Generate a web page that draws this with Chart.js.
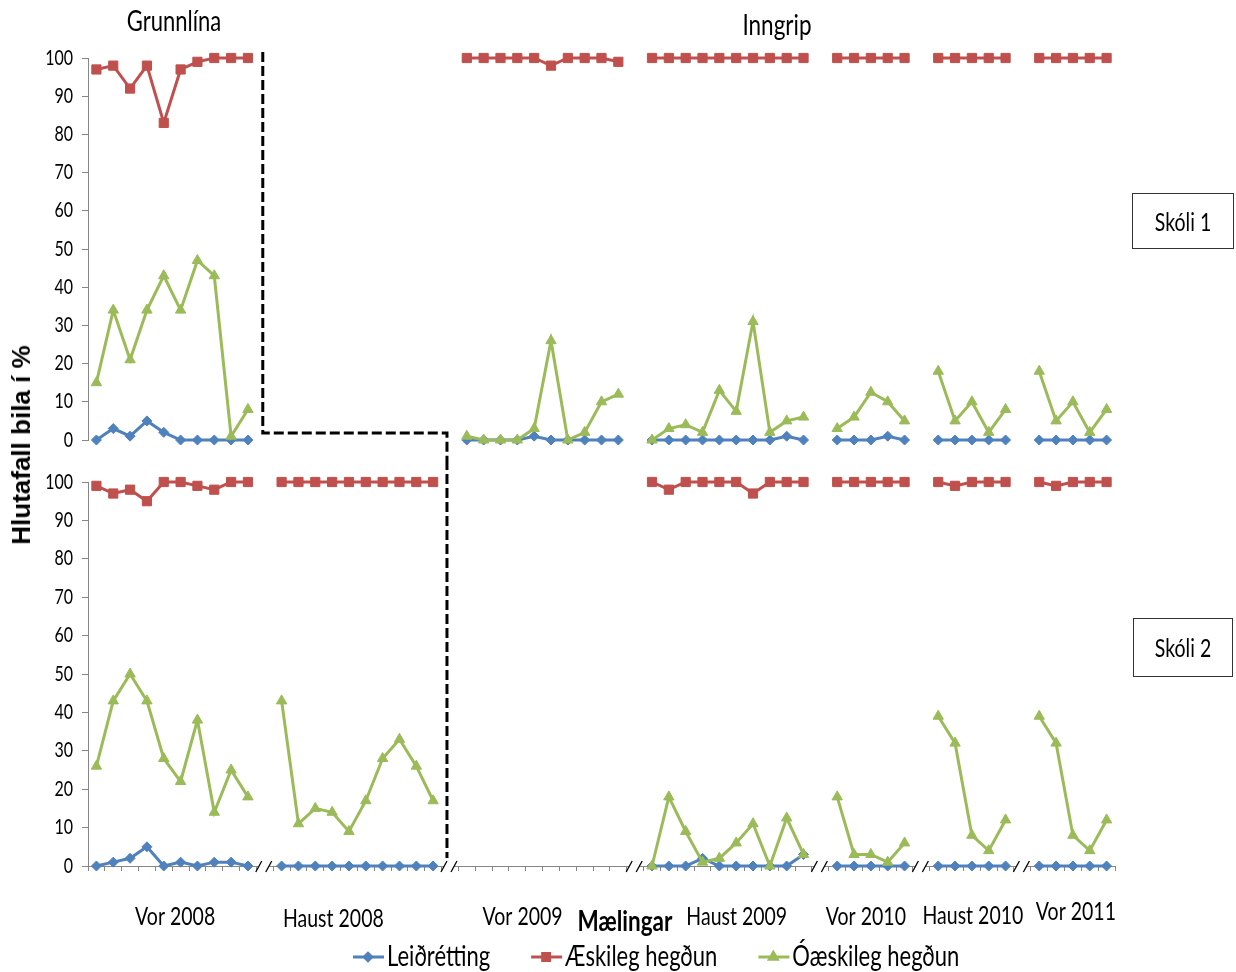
<!DOCTYPE html>
<html>
<head>
<meta charset="utf-8">
<script src="https://cdn.jsdelivr.net/npm/chart.js@4.4.1/dist/chart.umd.min.js"></script>
<style>
body { margin: 0; background: #fff; width: 1236px; height: 972px; position: relative; overflow: hidden;
       font-family: Lato, "Open Sans", sans-serif; }
canvas { position: absolute; left: 0; }
#topChart { top: 0; }
#bottomChart { top: 460px; }
.lbl { position: absolute; white-space: nowrap; color: #000; line-height: 1; transform: translate(-50%, -50%) scale(1, 1.28); }
.box { position: absolute; border: 1.5px solid #333; box-sizing: border-box; display: flex;
       align-items: center; justify-content: center; }
.box span { font-size: 19.5px; display: inline-block; transform: scale(1, 1.28); }
</style>
</head>
<body>
<canvas id="topChart" width="1236" height="460"></canvas>
<canvas id="bottomChart" width="1236" height="512"></canvas>

<div class="lbl" style="left:174px;top:21px;font-size:22px">Grunnlína</div>
<div class="lbl" style="left:777px;top:25px;font-size:22.5px">Inngrip</div>
<div class="box" style="left:1132px;top:193px;width:102px;height:56px"><span>Skóli 1</span></div>
<div class="box" style="left:1133px;top:618px;width:100px;height:59px"><span>Skóli 2</span></div>
<div class="lbl" style="left:625px;top:921px;font-size:22.5px;font-weight:bold">Mælingar</div>
<div class="lbl" style="left:21px;top:445px;font-size:26px;font-weight:bold;font-family:'Liberation Sans',Arial,sans-serif;transform:translate(-50%,-50%) rotate(-90deg)">Hlutafall bila í %</div>

<script>
// measurement periods and how many sessions each one has
var groups = ['Vor 2008', 'Haust 2008', 'Vor 2009', 'Haust 2009', 'Vor 2010', 'Haust 2010', 'Vor 2011'];
var groupSizes = [10, 10, 10, 10, 5, 5, 5];

// Skóli 1 (null = no measurement in that period)
var s1Leidretting = [
    [0, 3, 1, 5, 2, 0, 0, 0, 0, 0],
    null,
    [0, 0, 0, 0, 1, 0, 0, 0, 0, 0],
    [0, 0, 0, 0, 0, 0, 0, 0, 1, 0],
    [0, 0, 0, 1, 0],
    [0, 0, 0, 0, 0],
    [0, 0, 0, 0, 0]
];
var s1Aeskileg = [
    [97, 98, 92, 98, 83, 97, 99, 100, 100, 100],
    null,
    [100, 100, 100, 100, 100, 98, 100, 100, 100, 99],
    [100, 100, 100, 100, 100, 100, 100, 100, 100, 100],
    [100, 100, 100, 100, 100],
    [100, 100, 100, 100, 100],
    [100, 100, 100, 100, 100]
];
var s1Oaeskileg = [
    [15, 34, 21, 34, 43, 34, 47, 43, 1, 8],
    null,
    [1, 0, 0, 0, 3, 26, 0, 2, 10, 12],
    [0, 3, 4, 2, 13, 7.5, 31, 2, 5, 6],
    [3, 6, 12.5, 10, 5],
    [18, 5, 10, 2, 8],
    [18, 5, 10, 2, 8]
];

// Skóli 2
var s2Leidretting = [
    [0, 1, 2, 5, 0, 1, 0, 1, 1, 0],
    [0, 0, 0, 0, 0, 0, 0, 0, 0, 0],
    null,
    [0, 0, 0, 2, 0, 0, 0, 0, 0, 3],
    [0, 0, 0, 0, 0],
    [0, 0, 0, 0, 0],
    [0, 0, 0, 0, 0]
];
var s2Aeskileg = [
    [99, 97, 98, 95, 100, 100, 99, 98, 100, 100],
    [100, 100, 100, 100, 100, 100, 100, 100, 100, 100],
    null,
    [100, 98, 100, 100, 100, 100, 97, 100, 100, 100],
    [100, 100, 100, 100, 100],
    [100, 99, 100, 100, 100],
    [100, 99, 100, 100, 100]
];
var s2Oaeskileg = [
    [26, 43, 50, 43, 28, 22, 38, 14, 25, 18],
    [43, 11, 15, 14, 9, 17, 28, 33, 26, 17],
    null,
    [0, 18, 9, 1, 2, 6, 11, 0, 12.5, 3],
    [18, 3, 3, 1, 6],
    [39, 32, 8, 4, 12],
    [39, 32, 8, 4, 12]
];

var yTicks = [0, 10, 20, 30, 40, 50, 60, 70, 80, 90, 100];
var seriesNames = ['Leiðrétting', 'Æskileg hegðun', 'Óæskileg hegðun'];

var BLUE = '#4F81BD', RED = '#C0504D', GREEN = '#9BBB59', AXIS = '#868686';
var FONT = 'Lato, "Open Sans", sans-serif';
var STRETCH = 1.28;   // the original text is tall and narrow
Chart.defaults.font.family = FONT;
Chart.defaults.color = '#000';

// one slot per session plus an empty slot between periods
var slotLabels = [];
var gapSlots = [];
var groupStart = [];
groups.forEach(function (g, i) {
    groupStart.push(slotLabels.length);
    for (var k = 0; k < groupSizes[i]; k++) slotLabels.push(g);
    if (i < groups.length - 1) { gapSlots.push(slotLabels.length); slotLabels.push(''); }
});

buildSeries = function (perGroup) {
    var out = [];
    perGroup.forEach(function (vals, g) {
        for (var k = 0; k < groupSizes[g]; k++) out.push(vals ? vals[k] : null);
        if (g < groups.length - 1) out.push(null);
    });
    return out;
}

makeDataset = function (label, data, color, style, radius, order) {
    return {
        label: label, data: buildSeries(data),
        borderColor: color, backgroundColor: color,
        pointStyle: style, pointRadius: radius, pointHoverRadius: radius,
        borderWidth: 3, pointBorderWidth: 1, spanGaps: false, clip: false, order: order
    };
}

makeDatasets = function (leid, aesk, oaesk) {
    return [
        makeDataset(seriesNames[0], leid, BLUE, 'rectRot', 5, 2),
        makeDataset(seriesNames[1], aesk, RED, 'rect', 6.5, 1),
        makeDataset(seriesNames[2], oaesk, GREEN, 'triangle', 6, 0)
    ];
}

stretchText = function (ctx, text, x, y, font, align) {
    ctx.save();
    ctx.font = font;
    ctx.textAlign = align;
    ctx.textBaseline = 'middle';
    ctx.fillStyle = '#000';
    ctx.translate(x, y);
    ctx.scale(1, STRETCH);
    ctx.fillText(text, 0, 0);
    ctx.restore();
}

yScale = function () {
    return {
        min: 0, max: 100,
        afterFit: function (s) { s.width = 88; },
        afterBuildTicks: function (s) { s.ticks = yTicks.map(function (v) { return { value: v }; }); },
        ticks: { display: false },
        grid: { drawOnChartArea: false, tickLength: 6, color: AXIS },
        border: { color: AXIS, width: 1 }
    };
}

var yLabels = {
    id: 'yLabels',
    afterDraw: function (chart) {
        var y = chart.scales.y;
        yTicks.forEach(function (v) {
            stretchText(chart.ctx, String(v), y.right - 15, y.getPixelForValue(v), '16px ' + FONT, 'right');
        });
    }
};

dashed = function (ctx, pts) {
    ctx.save();
    ctx.strokeStyle = '#000';
    ctx.lineWidth = 3;
    ctx.setLineDash([10, 4]);
    ctx.beginPath();
    ctx.moveTo(pts[0][0], pts[0][1]);
    for (var i = 1; i < pts.length; i++) ctx.lineTo(pts[i][0], pts[i][1]);
    ctx.stroke();
    ctx.restore();
}

var topPhaseLine = {
    id: 'topPhaseLine',
    afterDraw: function (chart) {
        var x = chart.scales.x, y = chart.scales.y;
        var x1 = x.getPixelForValue(gapSlots[0]) - 2;
        var x2 = x.getPixelForValue(gapSlots[1]) - 3;
        var yh = y.getPixelForValue(0) - 7;
        dashed(chart.ctx, [[x1, chart.chartArea.top - 6], [x1, yh], [x2, yh], [x2, chart.height]]);
    }
};

var bottomDecor = {
    id: 'bottomDecor',
    afterDraw: function (chart) {
        var ctx = chart.ctx, x = chart.scales.x, area = chart.chartArea;
        var axisY = area.bottom;
        // phase change line continues from the top panel
        var x2 = x.getPixelForValue(gapSlots[1]) - 3;
        dashed(ctx, [[x2, 0], [x2, axisY - 8]]);

        // axis breaks
        ctx.save();
        gapSlots.forEach(function (s) {
            var cx = x.getPixelForValue(s) - 1;
            ctx.fillStyle = '#fff';
            ctx.fillRect(cx - 5, axisY - 2, 10, 4);
            ctx.strokeStyle = '#000';
            ctx.lineWidth = 1.3;
            [-5, 5].forEach(function (d) {
                ctx.beginPath();
                ctx.moveTo(cx + d - 3, axisY + 6);
                ctx.lineTo(cx + d + 3, axisY - 5);
                ctx.stroke();
            });
        });
        ctx.restore();

        // period labels under the axis
        var nudge = [3, -24, -20, 9, -5, 1, 3];
        var lift = [0, -2, 0, 0, 0, 1, 5];
        groups.forEach(function (g, i) {
            var a = x.getPixelForValue(groupStart[i]);
            var b = x.getPixelForValue(groupStart[i] + groupSizes[i] - 1);
            stretchText(ctx, g, (a + b) / 2 + nudge[i], 457 - lift[i], '19.5px ' + FONT, 'center');
        });

        // legend
        var lx = 353, ly = 497, lfont = '22px ' + FONT;
        chart.data.datasets.forEach(function (ds) {
            ctx.save();
            ctx.strokeStyle = ds.borderColor;
            ctx.lineWidth = 3;
            ctx.beginPath();
            ctx.moveTo(lx, ly);
            ctx.lineTo(lx + 31, ly);
            ctx.stroke();
            ctx.fillStyle = ds.borderColor;
            Chart.helpers.drawPoint(ctx, { pointStyle: ds.pointStyle, radius: ds.pointRadius * 0.75, borderWidth: 1 }, lx + 15, ly);
            ctx.font = lfont;
            var w = ctx.measureText(ds.label).width;
            ctx.restore();
            stretchText(ctx, ds.label, lx + 34, ly, lfont, 'left');
            lx += 34 + w + 41;
        });
    }
};

var topChart = new Chart(document.getElementById('topChart'), {
    type: 'line',
    data: { labels: slotLabels, datasets: makeDatasets(s1Leidretting, s1Aeskileg, s1Oaeskileg) },
    options: {
        responsive: false, animation: false,
        layout: { padding: { left: 0, right: 121, top: 58, bottom: 20 } },
        plugins: { legend: { display: false }, tooltip: { enabled: false } },
        scales: {
            x: { display: false, offset: true },
            y: yScale()
        }
    },
    plugins: [topPhaseLine, yLabels]
});

var bottomChart = new Chart(document.getElementById('bottomChart'), {
    type: 'line',
    data: { labels: slotLabels, datasets: makeDatasets(s2Leidretting, s2Aeskileg, s2Oaeskileg) },
    options: {
        responsive: false, animation: false,
        layout: { padding: { left: 0, right: 121, top: 22, bottom: 0 } },
        plugins: { legend: { display: false }, tooltip: { enabled: false } },
        scales: {
            x: {
                offset: true,
                afterFit: function (s) { s.height = 106; },
                ticks: { display: false, autoSkip: false },
                grid: { offset: true, drawOnChartArea: false, tickLength: 5, color: AXIS },
                border: { color: AXIS, width: 1 }
            },
            y: yScale()
        }
    },
    plugins: [bottomDecor, yLabels]
});
</script>
</body>
</html>
